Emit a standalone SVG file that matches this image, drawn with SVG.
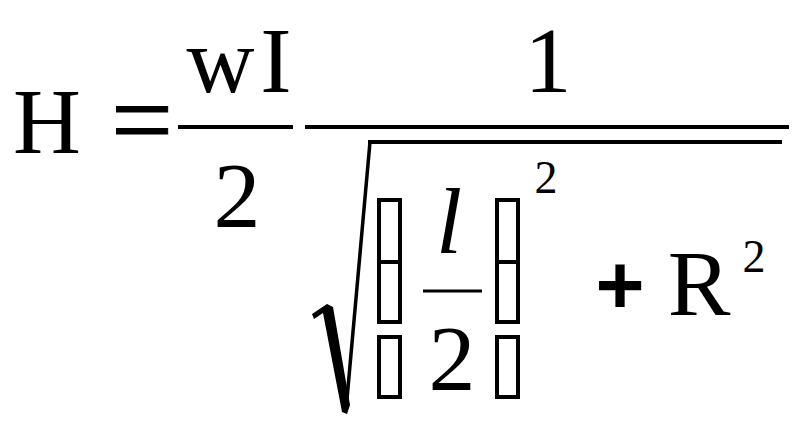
<svg xmlns="http://www.w3.org/2000/svg" width="805" height="434" viewBox="0 0 805 434">
<style>
.t{font-family:"Liberation Serif","Times New Roman",serif;font-size:94px;fill:#000;text-anchor:middle}
.i{font-style:italic}
.s{font-size:46px}
.b{font-family:"Liberation Sans",Arial,sans-serif;font-weight:bold;font-size:84px;fill:#000;text-anchor:middle}
.ln{stroke:#000;stroke-width:4;fill:none}
.box{stroke:#000;stroke-width:4;fill:none}
</style>
<rect width="805" height="434" fill="#fff"/>
<g id="lhs">
<text class="t" x="47" y="153">H</text>
<text class="t" x="142" y="157" style="font-size:110px;stroke:#000;stroke-width:1">=</text>
</g>
<g id="frac1">
<text class="t" x="242" y="92" letter-spacing="6">wI</text>
<line class="ln" x1="178" y1="127" x2="293" y2="127"/>
<text class="t" x="237" y="227">2</text>
</g>
<g id="frac2">
<text class="t" x="548" y="92">1</text>
<line class="ln" x1="305" y1="127" x2="789" y2="127"/>
</g>
<g id="sqrt">
<polygon points="312,314 327,304 333,307 350,405 347,414 342,412 323,313 314,319" fill="#000"/>
<line x1="346" y1="410" x2="370" y2="142" stroke="#000" stroke-width="3.5"/>
<line class="ln" x1="368" y1="142" x2="782" y2="142"/>
</g>
<g id="brackets">
<rect class="box" x="379" y="200" width="21" height="62"/>
<rect class="box" x="379" y="262" width="21" height="60"/>
<rect class="box" x="379" y="337" width="21" height="60"/>
<rect class="box" x="497" y="200" width="21" height="62"/>
<rect class="box" x="497" y="262" width="21" height="60"/>
<rect class="box" x="497" y="337" width="21" height="60"/>
</g>
<g id="inner">
<text class="t i" x="449" y="253">l</text>
<line x1="423" y1="291" x2="482" y2="291" stroke="#000" stroke-width="3"/>
<text class="t" x="452" y="390">2</text>
<text class="t s" x="546" y="193">2</text>
<text class="b" x="620" y="314">+</text>
<text class="t" x="699" y="315">R</text>
<text class="t s" x="754" y="272">2</text>
</g>
</svg>
